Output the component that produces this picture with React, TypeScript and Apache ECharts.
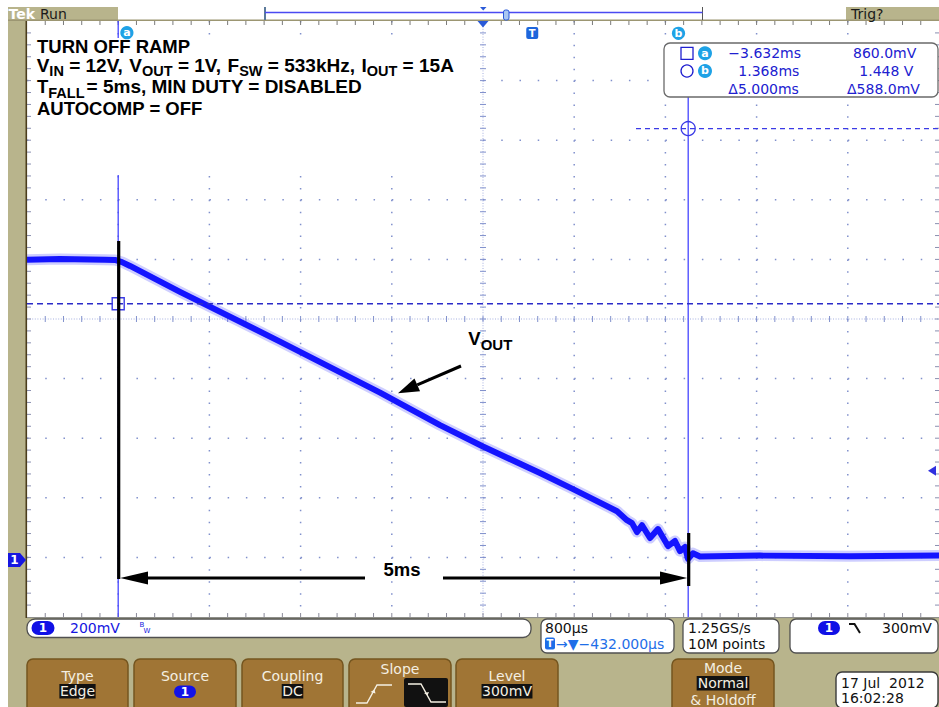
import React, { useEffect, useRef } from "react";
import * as echarts from "echarts";

const W = 939;
const H = 707;

// VOUT trace: time relative to trigger (ms) and voltage (V)
const traceTimeMs = [-4.432, -4.143, -3.748, -3.66, -3.599, -3.528, -3.09, -2.213, -1.335, -0.809, -0.432, 0.068, 0.358, 0.744, 0.831, 0.875, 0.919, 0.963, 1.033, 1.103, 1.191, 1.252, 1.296, 1.34, 1.366, 1.41, 1.471, 1.998, 2.787, 3.568];
const traceVolt = [1.008, 1.01, 1.008, 1.007, 1.0, 0.987, 0.9, 0.733, 0.562, 0.453, 0.381, 0.292, 0.238, 0.164, 0.134, 0.124, 0.094, 0.117, 0.074, 0.104, 0.047, 0.064, 0.03, 0.044, 0.004, 0.023, 0.012, 0.015, 0.013, 0.015];

// scope settings
const timePerDivMs = 0.8;
const triggerDelayMs = -0.432;
const voltsPerDiv = 0.2;
const screenBottomVolt = -0.191;
const triggerLevelV = 0.3;
const cursorTimesMs = [-3.632, 1.368];
const cursorVolts = [0.86, 1.448];

// texts
const annotationLine1 = "TURN OFF RAMP";
const annotationLine2 = [
  ["V", "IN", " = 12V,"],
  ["V", "OUT", " = 1V,"],
  ["F", "SW", " = 533kHz,"],
  ["I", "OUT", " = 15A"],
];
const annotationLine3 = ["T", "FALL", "= 5ms, MIN DUTY = DISABLED"];
const annotationLine4 = "AUTOCOMP = OFF";
const arrowLabel = "5ms";
const traceLabel = ["V", "OUT"];
const sampleRateTexts = ["1.25GS/s", "10M points"];
const dateTexts = ["17 Jul  2012", "16:02:28"];
const buttonLabels = ["Type", "Source", "Coupling", "Slope", "Level", "Mode"];
const buttonValues = ["Edge", "1", "DC", "", "300mV", "Normal"];
const modeExtra = "& Holdoff";

// ---- helpers ---------------------------------------------------------------
const fmtMs = (v: number) => (v < 0 ? "\u2212" : "") + Math.abs(v).toFixed(3) + "ms";
const fmtV = (v: number) => (Math.abs(v) < 1 ? (v * 1000).toFixed(1) + "mV" : v.toFixed(3) + " V");
const fmtUs = (v: number) => (v < 0 ? "\u2212" : "") + Math.abs(v * 1000).toFixed(3) + "\u00b5s";
const fmtMv = (v: number) => Math.round(v * 1000) + "mV";

const TAN = "#b8b48c";
const BROWN = "#a07535";
const BROWN_EDGE = "#74551f";
const BTN_TXT = "#f4efe2";
const CURSOR = "#4646ff";
const CYAN = "#1ea2e6";
const READ = "#2020d0";
const DOT = "#8090cc";
const DOT2 = "#a6b0e0";
const UI = '"DejaVu Sans", Verdana, sans-serif';
const ARIAL = '"Liberation Sans", Arial, sans-serif';

export default function App() {
  const ref = useRef<HTMLDivElement>(null);

  useEffect(() => {
    document.body.style.margin = "0";
    const chart = echarts.init(ref.current!, null, { renderer: "svg", width: W, height: H });
    const xMin = triggerDelayMs - 5 * timePerDivMs;
    const xMax = triggerDelayMs + 5 * timePerDivMs;
    const yMin = screenBottomVolt;
    const yMax = screenBottomVolt + 10 * voltsPerDiv;
    const traceData = traceTimeMs.map((t, i) => [t, traceVolt[i]]);

    chart.setOption({
      animation: false,
      backgroundColor: "#ffffff",
      grid: { left: 27, top: 21, width: 912, height: 596, show: false },
      xAxis: [
        { type: "value", min: -5, max: 5, show: false },
        { type: "value", min: xMin, max: xMax, show: false },
      ],
      yAxis: [
        { type: "value", min: -5, max: 5, show: false },
        { type: "value", min: yMin, max: yMax, show: false },
      ],
      series: [
        {
          type: "custom",
          xAxisIndex: 0,
          yAxisIndex: 0,
          z: 2,
          silent: true,
          clip: false,
          data: [[0, 0]],
          renderItem: (params: any, api: any) => {
            const [x0, yT] = api.coord([-5, 5]);
            const [x1, yB] = api.coord([5, -5]);
            const [cx, cy] = api.coord([0, 0]);
            const sx = (x1 - x0) / 50;
            const sy = (yB - yT) / 50;
            const ch: any[] = [];
            const L = (a: number, b: number, c: number, d: number, stroke: string, w: number, dash?: number[]) =>
              ch.push({ type: "line", shape: { x1: a, y1: b, x2: c, y2: d }, style: { stroke, lineWidth: w, lineDash: dash } });
            for (let i = -4; i <= 4; i++) {
              if (i === 0) continue;
              const x = api.coord([i, 0])[0];
              L(x, yT, x, yB, DOT, 1.5, [1.5, sy - 1.5]);
            }
            for (let j = -4; j <= 4; j++) {
              if (j === 0) continue;
              const y = api.coord([0, j])[1];
              L(x0, y, x1, y, DOT, 1.5, [1.5, sx - 1.5]);
            }
            L(x0, cy, x1, cy, DOT2, 1, [1, 1.6]);
            L(cx, yT, cx, yB, DOT2, 1, [1, 1.6]);
            for (let k = 1; k < 50; k++) {
              const x = x0 + k * sx;
              L(x, cy - 3, x, cy + 3, DOT, 1);
              L(x, yT, x, yT + 4, "#7a7a7a", 1);
              L(x, yB - 4, x, yB, "#8a8a9a", 1);
              const y = yT + k * sy;
              L(cx - 3, y, cx + 3, y, DOT, 1);
              L(x0, y, x0 + 4, y, "#8a8fb0", 1);
              L(x1 - 4, y, x1, y, "#8a8fb0", 1);
            }
            return { type: "group", children: ch };
          },
        },
        {
          type: "line",
          xAxisIndex: 1,
          yAxisIndex: 1,
          data: traceData,
          showSymbol: false,
          symbol: "none",
          silent: true,
          z: 4,
          lineStyle: { width: 11, color: "rgba(80,80,255,0.28)", join: "round" },
        },
        {
          type: "line",
          xAxisIndex: 1,
          yAxisIndex: 1,
          data: traceData,
          showSymbol: false,
          symbol: "none",
          silent: true,
          z: 5,
          lineStyle: { width: 6, color: "#1414ff", join: "round" },
        },
      ],
    });

    const px = (t: number, v: number) => chart.convertToPixel({ seriesIndex: 1 }, [t, v]) as number[];
    const ax = px(cursorTimesMs[0], 0)[0];
    const bx = px(cursorTimesMs[1], 0)[0];
    const ay = px(0, cursorVolts[0])[1];
    const by = px(0, cursorVolts[1])[1];
    const trigX = px(0, 0)[0];
    const groundY = px(0, 0)[1];
    const trigY = px(0, triggerLevelV)[1];

    const cv = document.createElement("canvas").getContext("2d")!;
    const measure = (t: string, font: string) => {
      cv.font = font;
      return cv.measureText(t).width;
    };

    const E: any[] = [];
    const rect = (x: number, y: number, w: number, h: number, style: any, r: any = 0, z = 10) =>
      E.push({ type: "rect", z, shape: { x, y, width: w, height: h, r }, style });
    const line = (x1: number, y1: number, x2: number, y2: number, style: any, z = 10) =>
      E.push({ type: "line", z, shape: { x1, y1, x2, y2 }, style });
    const text = (x: number, y: number, t: string, font: string, fill: string, align = "left", va = "middle", z = 12) =>
      E.push({ type: "text", z, x, y, style: { text: t, font, fill, align, verticalAlign: va, textAlign: align, textVerticalAlign: va } });
    const poly = (pts: number[][], style: any, z = 10) => E.push({ type: "polygon", z, shape: { points: pts }, style });
    const pline = (pts: number[][], style: any, z = 10) => E.push({ type: "polyline", z, shape: { points: pts }, style: { fill: "none", ...style } });
    const circ = (cx: number, cy: number, r: number, style: any, z = 10) => E.push({ type: "circle", z, shape: { cx, cy, r }, style });

    // ---- frame -----
    rect(8, 7, W - 8, H - 7, { fill: TAN }, 0, 0);
    rect(27, 21, 912, 596, { fill: "#ffffff" }, 0, 1);
    line(26.3, 20, 26.3, 618, { stroke: "#4b3d1c", lineWidth: 1.6 }, 6);
    line(27, 617.6, 939, 617.6, { stroke: "#8c8c8c", lineWidth: 1 }, 6);
    line(8, 20.2, 939, 20.2, { stroke: "#9c9672", lineWidth: 1.4 }, 6);

    // ---- top bar -----
    rect(118, 7, 728, 13, { fill: "#ffffff" }, 0, 5);
    line(265, 7, 265, 20, { stroke: "#5b7a9a", lineWidth: 2 });
    line(702.5, 7, 702.5, 20, { stroke: "#555", lineWidth: 1 });
    line(265, 12.4, 702.5, 12.4, { stroke: "#4a4af2", lineWidth: 1.5 });
    poly([[480, 7], [486.5, 7], [483.2, 10.5]], { fill: "#2a5ad8" });
    rect(503.5, 10, 5.5, 10, { fill: "#a9c6f2", stroke: "#2a5ad8", lineWidth: 1 }, 2);
    text(8.5, 14, "Tek", "bold 14px " + UI, "#ffffff");
    text(40, 13.5, "Run", "14px " + UI, "#1a1a1a");
    text(851, 13.5, "Trig?", "14px " + UI, "#1a1a1a");

    // expansion marker and trigger marker
    poly([[477.5, 21], [488.5, 21], [483, 27.5]], { fill: "#2a5ad8" });
    rect(trigX - 6, 27, 12, 12, { fill: "#1e66dc" }, 2);
    text(trigX, 33.3, "T", "bold 10px " + UI, "#ffffff", "center");

    // ---- annotation box -----
    rect(33, 38, 441, 137, { fill: "#ffffff" }, 0, 3);
    const fMain = "bold 18.5px " + ARIAL;
    const fMain2 = "bold 19px " + ARIAL;
    const fSub = "bold 14.5px " + ARIAL;
    const cap = 6.6;
    text(37, 52.7 - cap, annotationLine1, fMain, "#000");
    {
      let x = 36.7;
      annotationLine2.forEach((g) => {
        text(x, 71.7 - cap, g[0], fMain2, "#000");
        x += measure(g[0], fMain2);
        text(x, 75.8 - 5.2, g[1], fSub, "#000");
        x += measure(g[1], fSub);
        text(x, 71.7 - cap, g[2], fMain2, "#000");
        x += measure(g[2], fMain2) + 6.5;
      });
    }
    {
      let x = 37;
      text(x, 93.3 - cap, annotationLine3[0], fMain, "#000");
      x += measure(annotationLine3[0], fMain);
      text(x, 98 - 5.2, annotationLine3[1], fSub, "#000");
      x += measure(annotationLine3[1], fSub) + 2;
      text(x, 93.3 - cap, annotationLine3[2], fMain2, "#000");
    }
    text(37, 115 - cap, annotationLine4, fMain, "#000");

    // ---- cursors -----
    line(ax, 21, ax, 38, { stroke: CURSOR, lineWidth: 1.3 }, 6);
    line(ax, 175, ax, 617, { stroke: CURSOR, lineWidth: 1.3 }, 6);
    line(bx, 97, bx, 617, { stroke: CURSOR, lineWidth: 1.3 }, 6);
    line(27, ay, 939, ay, { stroke: "#2b2bc8", lineWidth: 1.4, lineDash: [6, 4] }, 6);
    line(636, by, 939, by, { stroke: "#3a3ae6", lineWidth: 1.3, lineDash: [5, 4] }, 6);
    rect(ax - 6, ay - 6, 12, 12, { fill: "none", stroke: "#3a3ae6", lineWidth: 1.4 }, 0, 7);
    circ(bx, by, 7, { fill: "none", stroke: "#3a3ae6", lineWidth: 1.3 }, 7);
    circ(ax + 8.7, 32.7, 6.6, { fill: CYAN });
    text(ax + 8.7, 32.5, "a", "bold 11px " + UI, "#fff", "center");
    circ(bx - 9.7, 33.3, 6.6, { fill: CYAN });
    text(bx - 9.7, 33.1, "b", "bold 11px " + UI, "#fff", "center");

    // readout box
    rect(664, 43, 274, 54, { fill: "#ffffff", stroke: "#6a6a6a", lineWidth: 1.3 }, 6, 8);
    rect(681, 47.3, 12, 12, { fill: "none", stroke: READ, lineWidth: 1.3 });
    circ(687, 71, 6, { fill: "none", stroke: READ, lineWidth: 1.3 });
    circ(705, 53.3, 7, { fill: CYAN });
    text(705, 53, "a", "bold 11px " + UI, "#fff", "center");
    circ(705, 71, 7, { fill: CYAN });
    text(705, 70.8, "b", "bold 11px " + UI, "#fff", "center");
    const fR = "14px " + UI;
    text(728.3, 53.3, fmtMs(cursorTimesMs[0]), fR, READ);
    text(853, 53.3, fmtV(cursorVolts[0]), fR, READ);
    text(738.3, 71, fmtMs(cursorTimesMs[1]), fR, READ);
    text(859.3, 71, fmtV(cursorVolts[1]), fR, READ);
    text(728.3, 88.5, "\u0394" + fmtMs(cursorTimesMs[1] - cursorTimesMs[0]), fR, READ);
    text(847, 88.5, "\u0394" + fmtV(cursorVolts[1] - cursorVolts[0]), fR, READ);

    // ---- black annotations -----
    const blk = { stroke: "#000", lineWidth: 3.2 };
    line(ax + 0.5, 241, ax + 0.5, 579, blk, 9);
    line(bx + 0.5, 533, bx + 0.5, 586, blk, 9);
    const arrowY = 578;
    line(146, arrowY, 365, arrowY, blk, 9);
    line(443, arrowY, 662, arrowY, blk, 9);
    poly([[ax + 2, arrowY], [148, arrowY - 6.5], [148, arrowY + 6.5]], { fill: "#000" }, 9);
    poly([[bx - 1, arrowY], [660, arrowY - 6.5], [660, arrowY + 6.5]], { fill: "#000" }, 9);
    text(402, 569, arrowLabel, fMain, "#000", "center");

    // VOUT arrow
    const tip = [398, 393.3];
    const from = [461, 366];
    const dx = tip[0] - from[0];
    const dy = tip[1] - from[1];
    const len = Math.hypot(dx, dy);
    const ux = dx / len;
    const uy = dy / len;
    const bxh = tip[0] - 21 * ux;
    const byh = tip[1] - 21 * uy;
    line(from[0], from[1], bxh, byh, { stroke: "#000", lineWidth: 3 }, 9);
    poly([tip, [bxh - uy * 7, byh + ux * 7], [bxh + uy * 7, byh - ux * 7]], { fill: "#000" }, 9);
    text(468.3, 345 - cap, traceLabel[0], fMain, "#000");
    text(468.3 + measure(traceLabel[0], fMain), 350 - 5.4, traceLabel[1], "bold 15px " + ARIAL, "#000");

    // channel marker & trigger level marker
    poly([[8, groundY - 7], [20, groundY - 7], [26, groundY], [20, groundY + 7], [8, groundY + 7]], { fill: "#1616e0" }, 9);
    text(14.5, groundY, "1", "bold 12px " + UI, "#fff", "center");
    poly([[936, trigY - 5], [936, trigY + 5], [928, trigY]], { fill: "#3030e0" }, 9);

    // ---- bottom info boxes -----
    const fI = "14px " + UI;
    rect(27, 619, 504, 18.5, { fill: "#fff", stroke: "#505050", lineWidth: 1.3 }, 8, 8);
    rect(31.5, 621, 23, 14, { fill: "#1010e6" }, 7);
    text(43, 628, "1", "bold 12px " + UI, "#fff", "center");
    text(70, 628, fmtMv(voltsPerDiv), fI, "#1515e0");
    text(139.5, 624.5, "B", "7px " + UI, "#1515e0");
    text(143.5, 630.5, "W", "7px " + UI, "#1515e0");

    rect(541, 619, 133, 34, { fill: "#fff", stroke: "#505050", lineWidth: 1.3 }, 6, 8);
    text(545, 628.3, Math.round(timePerDivMs * 1000) + "\u00b5s", fI, "#111");
    rect(545, 637.5, 10, 12, { fill: "#1e6ee8" }, 2);
    text(550, 643.6, "T", "bold 10px " + UI, "#fff", "center");
    text(556, 644, "\u2192\u25BC" + fmtUs(triggerDelayMs), fI, "#1e6ee8");

    rect(683, 619, 96, 34, { fill: "#fff", stroke: "#505050", lineWidth: 1.3 }, 6, 8);
    text(688, 628.3, sampleRateTexts[0], fI, "#111");
    text(688, 644, sampleRateTexts[1], fI, "#111");

    rect(790, 619, 148, 34, { fill: "#fff", stroke: "#505050", lineWidth: 1.3 }, 6, 8);
    rect(818, 621, 22, 14, { fill: "#1010e6" }, 7);
    text(829, 628, "1", "bold 12px " + UI, "#fff", "center");
    pline([[849, 624], [854.5, 624], [860, 633]], { stroke: "#111", lineWidth: 2 });
    text(882, 628.3, fmtMv(triggerLevelV), fI, "#111");

    // ---- buttons -----
    const btn = [
      { x: 27, w: 101 },
      { x: 134, w: 102 },
      { x: 242, w: 101 },
      { x: 349, w: 102 },
      { x: 456, w: 102 },
      { x: 672, w: 102 },
    ];
    const fB = "14px " + UI;
    btn.forEach((b, i) => {
      rect(b.x, 659, b.w, 52, { fill: BROWN, stroke: BROWN_EDGE, lineWidth: 1.5 }, [6, 6, 0, 0], 8);
      const cx = b.x + b.w / 2;
      const lab = buttonLabels[i];
      const val = buttonValues[i];
      if (lab === "Slope") {
        text(cx, 668.5, lab, fB, BTN_TXT, "center");
        pline([[356, 703], [367, 703], [377, 685], [392, 685]], { stroke: BTN_TXT, lineWidth: 1.4 });
        poly([[374.5, 689.5], [370.5, 692], [375.5, 693.5]], { fill: BTN_TXT }, 11);
        rect(404, 678, 44, 29, { fill: "#111" }, 2, 10);
        pline([[408, 684], [421, 684], [431, 702], [446, 702]], { stroke: BTN_TXT, lineWidth: 1.4 }, 11);
        poly([[427.5, 695.5], [424, 693], [429, 692]], { fill: BTN_TXT }, 11);
      } else if (lab === "Mode") {
        text(cx, 667.5, lab, fB, BTN_TXT, "center");
        const w = measure(val, fB) + 2;
        rect(cx - w / 2, 676, w, 14.5, { fill: "#111" }, 0, 10);
        text(cx, 683.3, val, fB, BTN_TXT, "center");
        text(cx, 699.5, modeExtra, fB, BTN_TXT, "center");
      } else if (lab === "Source") {
        text(cx, 676, lab, fB, BTN_TXT, "center");
        rect(cx - 11, 685.5, 22, 12.5, { fill: "#1212e8" }, 6.2, 10);
        text(cx, 691.8, val, "bold 12px " + UI, "#fff", "center");
      } else {
        text(cx, 676, lab, fB, BTN_TXT, "center");
        const w = measure(val, fB) + 1;
        rect(cx - w / 2, 684, w, 14.5, { fill: "#111" }, 0, 10);
        text(cx, 691.3, val, fB, BTN_TXT, "center");
      }
    });

    // date box
    rect(836, 672, 102, 36, { fill: "#fff", stroke: "#3a3a3a", lineWidth: 1.4 }, 6, 8);
    text(841, 682.5, dateTexts[0], fI, "#111");
    text(841, 698, dateTexts[1], fI, "#111");

    chart.setOption({ graphic: { elements: E } });

    return () => chart.dispose();
  }, []);

  return <div ref={ref} style={{ width: W, height: H }} />;
}
